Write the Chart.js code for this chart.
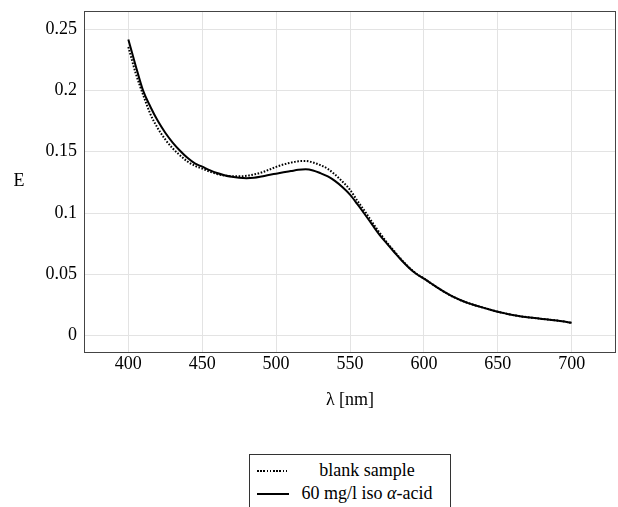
<!DOCTYPE html>
<html>
<head>
<meta charset="utf-8">
<script src="https://cdn.jsdelivr.net/npm/chart.js@4/dist/chart.umd.min.js"></script>
<style>
  html, body { margin: 0; padding: 0; background: #fff; }
  body { width: 618px; height: 507px; overflow: hidden; position: relative; font-family: "Liberation Serif", serif; }
  #spectrum { position: absolute; left: 0; top: 0; }
  .legend { position: absolute; left: 249px; top: 454px; width: 202px; height: 70px; border: 1px solid #333; padding-top: 4px; box-sizing: border-box; color: #000; font-size: 18px; }
  .legend-row { display: flex; align-items: center; height: 23px; }
  .legend-sample { margin-left: 7px; width: 32px; height: 2px; }
  .legend-sample.dotted { background: repeating-linear-gradient(90deg, #000 0 1.6px, transparent 1.6px 3.2px); }
  .legend-sample.solid { background: #000; }
  .legend-text { margin-left: 3px; width: 150px; text-align: center; white-space: nowrap; }
</style>
</head>
<body>
<canvas id="spectrum" width="618" height="412"></canvas>
<div class="legend" id="legend"></div>
<script>
// Wellenlänge [nm]
const wavelengths = [
  400, 405, 410, 415, 420, 425, 430, 435, 440, 445,
  450, 455, 460, 465, 470, 475, 480, 485, 490, 495,
  500, 505, 510, 515, 520, 525, 530, 535, 540, 545,
  550, 555, 560, 565, 570, 575, 580, 585, 590, 595,
  600, 605, 610, 615, 620, 625, 630, 635, 640, 645,
  650, 655, 660, 665, 670, 675, 680, 685, 690, 695, 700
];

// Extinktion E – Blindprobe (gepunktet)
const blankSample = [
  0.2355, 0.2140, 0.1965, 0.1805, 0.1690, 0.1600, 0.1527, 0.1470, 0.1420, 0.1385,
  0.1362, 0.1338, 0.1318, 0.1306, 0.1300, 0.1300, 0.1303, 0.1315, 0.1330, 0.1352,
  0.1376, 0.1396, 0.1411, 0.1422, 0.1424, 0.1412, 0.1390, 0.1360, 0.1312, 0.1255,
  0.1190, 0.1100, 0.1015, 0.0925, 0.0840, 0.0760, 0.0688, 0.0617, 0.0556, 0.0504,
  0.0466, 0.0425, 0.0385, 0.0348, 0.0315, 0.0288, 0.0265, 0.0246, 0.0228, 0.0211,
  0.0195, 0.0181, 0.0168, 0.0158, 0.0150, 0.0143, 0.0136, 0.0130, 0.0123, 0.0114, 0.0104
];

// Extinktion E – 60 mg/l iso-alpha-Säure (durchgezogen)
const isoAcid = [
  0.2416, 0.2200, 0.1998, 0.1865, 0.1750, 0.1655, 0.1575, 0.1508, 0.1450, 0.1405,
  0.1378, 0.1350, 0.1326, 0.1308, 0.1295, 0.1287, 0.1284, 0.1288, 0.1298, 0.1310,
  0.1321, 0.1332, 0.1342, 0.1352, 0.1356, 0.1347, 0.1325, 0.1298, 0.1260, 0.1210,
  0.1150, 0.1072, 0.0990, 0.0905, 0.0822, 0.0750, 0.0680, 0.0612, 0.0552, 0.0502,
  0.0465, 0.0425, 0.0385, 0.0348, 0.0315, 0.0288, 0.0265, 0.0246, 0.0228, 0.0211,
  0.0195, 0.0181, 0.0168, 0.0158, 0.0150, 0.0143, 0.0136, 0.0130, 0.0123, 0.0114, 0.0104
];

const xTicks = [400, 450, 500, 550, 600, 650, 700];
const yTicks = [0, 0.05, 0.1, 0.15, 0.2, 0.25];
const seriesLabels = ['blank sample', '60 mg/l iso α-acid'];

const FONT = '"Liberation Serif", "DejaVu Serif", serif';

function toPoints(values) {
  return wavelengths.map((x, i) => ({ x: x, y: values[i] }));
}

/**
 * Rahmen um den Plotbereich + aufrechte y-Beschriftung
 */
const framePlugin = {
  id: 'frame',
  afterDraw(chart) {
    const { ctx, chartArea: a } = chart;
    ctx.save();
    ctx.strokeStyle = '#444';
    ctx.lineWidth = 1;
    const l = Math.round(a.left) + 0.5;
    const t = Math.round(a.top) + 0.5;
    const r = Math.round(a.right) - 0.5;
    const b = Math.round(a.bottom) + 0.5;
    ctx.strokeRect(l, t, r - l, b - t);

    ctx.fillStyle = '#000';
    ctx.font = '18px ' + FONT;
    ctx.textAlign = 'center';
    ctx.textBaseline = 'middle';
    ctx.fillText('E', 19, (a.top + a.bottom) / 2);
    ctx.restore();
  }
};

const ctx = document.getElementById('spectrum').getContext('2d');

new Chart(ctx, {
  type: 'line',
  data: {
    datasets: [
      {
        label: seriesLabels[0],
        data: toPoints(blankSample),
        borderColor: '#000',
        borderWidth: 2,
        borderDash: [1.6, 1.6],
        pointRadius: 0,
        cubicInterpolationMode: 'monotone',
        fill: false
      },
      {
        label: seriesLabels[1],
        data: toPoints(isoAcid),
        borderColor: '#000',
        borderWidth: 2,
        pointRadius: 0,
        cubicInterpolationMode: 'monotone',
        fill: false
      }
    ]
  },
  options: {
    responsive: false,
    animation: false,
    layout: {
      padding: { top: 11, right: 2, bottom: 0, left: 0 }
    },
    plugins: {
      legend: { display: false },
      tooltip: { enabled: false }
    },
    scales: {
      x: {
        type: 'linear',
        min: 370,
        max: 730,
        afterBuildTicks: (axis) => { axis.ticks = xTicks.map(v => ({ value: v })); },
        afterFit: (axis) => {
          axis.height = 60;
          axis.paddingLeft = 0;
          axis.paddingRight = 0;
        },
        grid: { color: '#e3e3e3', drawTicks: false },
        border: { display: false },
        ticks: {
          padding: 1,
          color: '#000',
          maxRotation: 0,
          font: { family: FONT, size: 18 },
          callback: (v) => String(v)
        },
        title: {
          display: true,
          text: 'λ [nm]',
          color: '#000',
          font: { family: FONT, size: 18 },
          padding: { top: 0, bottom: 1 }
        }
      },
      y: {
        type: 'linear',
        min: -0.0134,
        max: 0.2648,
        afterBuildTicks: (axis) => { axis.ticks = yTicks.map(v => ({ value: v })); },
        afterFit: (axis) => {
          axis.width = 84;
          axis.paddingTop = 0;
          axis.paddingBottom = 0;
        },
        grid: { color: '#e3e3e3', drawTicks: false },
        border: { display: false },
        ticks: {
          padding: 7,
          color: '#000',
          font: { family: FONT, size: 18 },
          callback: (v) => String(v)
        }
      }
    }
  },
  plugins: [framePlugin]
});

// Legende
const legend = document.getElementById('legend');
legend.innerHTML = seriesLabels.map((label, i) => `
  <div class="legend-row">
    <div class="legend-sample ${i === 0 ? 'dotted' : 'solid'}"></div>
    <div class="legend-text">${label.replace('α', '<i>α</i>')}</div>
  </div>
`).join('');
</script>
</body>
</html>
